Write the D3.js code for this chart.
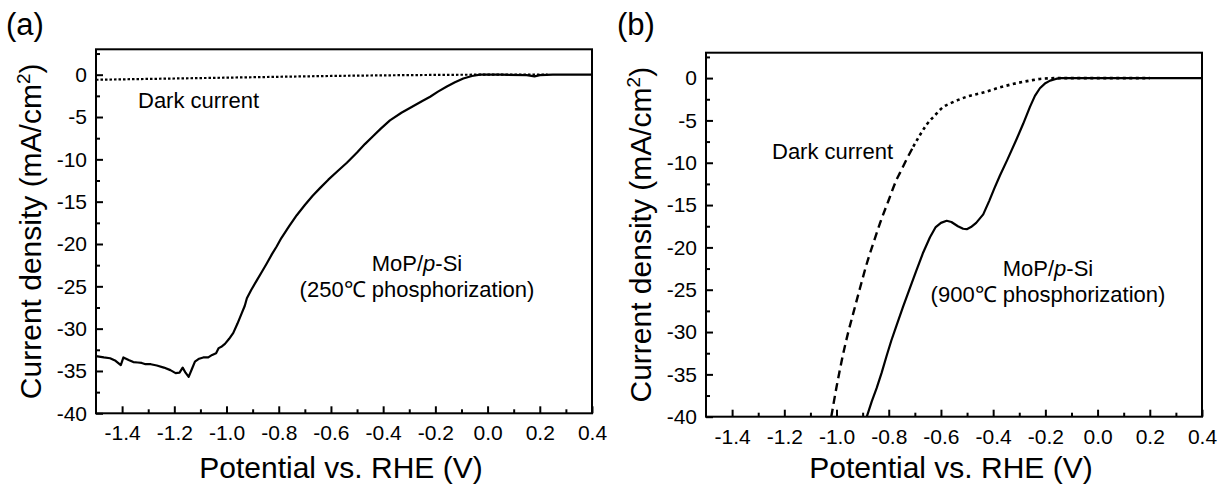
<!DOCTYPE html>
<html>
<head>
<meta charset="utf-8">
<script src="https://cdn.jsdelivr.net/npm/d3@7/dist/d3.min.js"></script>
<style>
  html, body { margin: 0; padding: 0; background: #fff; }
  svg { display: block; font-family: "Liberation Sans", Arial, sans-serif; }
  .tick text { font-size: 21px; fill: #000; }
  .tick line { stroke: #000; stroke-width: 2; }
</style>
</head>
<body>
<svg id="chart" width="1222" height="486"></svg>
<script>
// ---- data ----
const xMajor = [-1.4, -1.2, -1.0, -0.8, -0.6, -0.4, -0.2, 0.0, 0.2, 0.4];
const xMajorLabels = ['-1.4', '-1.2', '-1.0', '-0.8', '-0.6', '-0.4', '-0.2', '0.0', '0.2', '0.4'];
const xMinor = [-1.3, -1.1, -0.9, -0.7, -0.5, -0.3, -0.1, 0.1, 0.3];
const yMajor = [-40, -35, -30, -25, -20, -15, -10, -5, 0];
const yMajorLabels = ['-40', '-35', '-30', '-25', '-20', '-15', '-10', '-5', '0'];
const yMinor = [-37.5, -32.5, -27.5, -22.5, -17.5, -12.5, -7.5, -2.5, 2.5];

// (a) MoP/p-Si, 250 C phosphorization  [V, mA/cm2]
const lightA = [
  [-1.500, -33.25], [-1.470, -33.4], [-1.446, -33.5], [-1.425, -33.8], [-1.405, -34.3],
  [-1.395, -33.4], [-1.375, -33.7], [-1.357, -33.95], [-1.340, -34.0], [-1.325, -34.05],
  [-1.310, -34.2], [-1.290, -34.2], [-1.267, -34.35], [-1.240, -34.6], [-1.215, -34.9],
  [-1.195, -35.25], [-1.180, -35.2], [-1.168, -34.6], [-1.157, -35.2], [-1.145, -35.7],
  [-1.133, -34.8], [-1.121, -33.9], [-1.105, -33.55], [-1.089, -33.4], [-1.070, -33.4],
  [-1.055, -33.1], [-1.040, -32.9], [-1.030, -32.3], [-1.018, -32.1], [-1.006, -31.8],
  [-0.990, -31.2], [-0.974, -30.5], [-0.958, -29.4], [-0.942, -28.2], [-0.930, -27.3],
  [-0.922, -26.4], [-0.905, -25.4], [-0.884, -24.3], [-0.865, -23.3], [-0.846, -22.3],
  [-0.826, -21.2], [-0.808, -20.3], [-0.790, -19.3], [-0.760, -17.9], [-0.731, -16.6],
  [-0.700, -15.4], [-0.670, -14.3], [-0.642, -13.4], [-0.610, -12.4], [-0.575, -11.4],
  [-0.539, -10.4], [-0.500, -9.2], [-0.470, -8.2], [-0.440, -7.3], [-0.410, -6.4],
  [-0.374, -5.4], [-0.330, -4.5], [-0.284, -3.7], [-0.250, -3.1], [-0.220, -2.6],
  [-0.190, -2.0], [-0.156, -1.4], [-0.125, -0.9], [-0.093, -0.45], [-0.060, -0.15],
  [-0.029, 0.0], [0.050, 0.0], [0.150, -0.05], [0.180, -0.2], [0.200, -0.05],
  [0.250, 0.0], [0.400, 0.0]
];
const darkA = [
  [-1.5, -0.6], [-1.2, -0.45], [-0.9, -0.3], [-0.6, -0.15], [-0.3, -0.05], [0.0, 0.0], [0.23, 0.0]
];

// (b) MoP/p-Si, 900 C phosphorization
const lightB = [
  [-0.884, -40], [-0.865, -38.2], [-0.846, -36.6], [-0.827, -34.8], [-0.808, -32.8],
  [-0.790, -31.0], [-0.770, -29.2], [-0.745, -27.0], [-0.719, -24.8], [-0.695, -22.8],
  [-0.668, -20.6], [-0.642, -18.8], [-0.620, -17.6], [-0.600, -17.1], [-0.578, -16.85],
  [-0.560, -17.0], [-0.535, -17.5], [-0.515, -17.8], [-0.501, -17.85], [-0.485, -17.6],
  [-0.465, -17.1], [-0.438, -16.1], [-0.415, -14.5], [-0.395, -13.0], [-0.374, -11.5],
  [-0.345, -9.6], [-0.310, -7.2], [-0.285, -5.4], [-0.259, -3.4], [-0.240, -2.1],
  [-0.221, -1.2], [-0.200, -0.6], [-0.182, -0.3], [-0.160, -0.1], [-0.144, 0.0],
  [0.400, 0.0]
];
const darkB = [
  [-1.020, -40], [-1.000, -36.5], [-0.974, -32.5], [-0.955, -30.0], [-0.936, -27.8],
  [-0.910, -24.8], [-0.884, -21.9], [-0.858, -19.4], [-0.833, -17.1], [-0.800, -14.4],
  [-0.770, -12.0], [-0.757, -11.2], [-0.730, -9.5], [-0.706, -8.1], [-0.680, -6.7],
  [-0.655, -5.5], [-0.620, -4.3], [-0.591, -3.4], [-0.565, -3.0], [-0.501, -2.2],
  [-0.438, -1.7], [-0.374, -1.1], [-0.310, -0.6], [-0.260, -0.3], [-0.221, -0.1],
  [-0.150, 0.0], [0.200, 0.0]
];

const svg = d3.select('#chart');

function drawPanel(opts) {
  const W = 496, H = 364;
  const g = svg.append('g').attr('transform', `translate(${opts.left},${opts.top})`);

  const x = d3.scaleLinear().domain([-1.5, 0.4]).range([0, W]);
  const y = d3.scaleLinear().domain([-40, 3]).range([H, 0]);

  // minor ticks
  g.append('g').attr('transform', `translate(0,${H})`)
    .call(d3.axisBottom(x).tickValues(xMinor).tickSize(-4).tickFormat(''))
    .call(a => a.select('.domain').remove());
  g.append('g')
    .call(d3.axisLeft(y).tickValues(yMinor).tickSize(-4).tickFormat(''))
    .call(a => a.select('.domain').remove());

  // major ticks
  g.append('g').attr('transform', `translate(0,${H})`)
    .call(d3.axisBottom(x).tickValues(xMajor).tickSize(-7).tickPadding(12)
      .tickFormat((d, i) => xMajorLabels[i]))
    .call(a => a.select('.domain').remove());
  g.append('g')
    .call(d3.axisLeft(y).tickValues(yMajor).tickSize(-7).tickPadding(9)
      .tickFormat((d, i) => yMajorLabels[i]))
    .call(a => a.select('.domain').remove());

  // frame
  g.append('rect').attr('width', W).attr('height', H)
    .attr('fill', 'none').attr('stroke', '#000').attr('stroke-width', 2);

  const line = d3.line().x(d => x(d[0])).y(d => y(d[1])).curve(d3.curveMonotoneX);

  // dark current
  if (opts.darkSplit != null) {
    const lower = opts.dark.filter(d => d[1] <= opts.darkSplit);
    const upper = opts.dark.filter(d => d[1] >= opts.darkSplit - 1.5);
    g.append('path').datum(lower).attr('d', line)
      .attr('fill', 'none').attr('stroke', '#000').attr('stroke-width', 2.4)
      .attr('stroke-dasharray', '8,5');
    g.append('path').datum(upper.slice(1)).attr('d', line)
      .attr('fill', 'none').attr('stroke', '#000').attr('stroke-width', 2.6)
      .attr('stroke-dasharray', '3,3.5');
  } else {
    g.append('path').datum(opts.dark).attr('d', line)
      .attr('fill', 'none').attr('stroke', '#000').attr('stroke-width', 2.2)
      .attr('stroke-dasharray', '2.5,2');
  }

  // light current
  g.append('path').datum(opts.light).attr('d', d3.line().x(d => x(d[0])).y(d => y(d[1])))
    .attr('fill', 'none').attr('stroke', '#000').attr('stroke-width', 2.2)
    .attr('stroke-linejoin', 'round');

  // axis titles
  g.append('text')
    .attr('transform', `translate(-55,${H / 2}) rotate(-90)`)
    .attr('text-anchor', 'middle').attr('font-size', 30)
    .html('Current density (mA/cm<tspan dy="-11" font-size="19">2</tspan><tspan dy="11">)</tspan>');
  g.append('text')
    .attr('x', W / 2 - 3).attr('y', 478 - opts.top)
    .attr('text-anchor', 'middle').attr('font-size', 30)
    .text('Potential vs. RHE (V)');

  // annotations
  g.append('text').attr('x', opts.darkLabel[0]).attr('y', opts.darkLabel[1])
    .attr('font-size', 22).text('Dark current');
  const t = g.append('text').attr('text-anchor', 'middle').attr('font-size', 22);
  t.append('tspan').attr('x', opts.sampleLabel[0]).attr('y', opts.sampleLabel[1])
    .html('MoP/<tspan font-style="italic">p</tspan>-Si');
  t.append('tspan').attr('x', opts.sampleLabel[0]).attr('y', opts.sampleLabel[1] + 26)
    .text(opts.sampleTemp);

  svg.append('text').attr('x', opts.tagX).attr('y', 35)
    .attr('font-size', 31).text(opts.tag);
}

drawPanel({
  left: 96, top: 49.3, light: lightA, dark: darkA, darkSplit: null,
  darkLabel: [42, 59], sampleLabel: [321, 222], sampleTemp: '(250℃ phosphorization)',
  tag: '(a)', tagX: 6
});
drawPanel({
  left: 706, top: 52.7, light: lightB, dark: darkB, darkSplit: -8,
  darkLabel: [66, 106], sampleLabel: [342, 223], sampleTemp: '(900℃ phosphorization)',
  tag: '(b)', tagX: 617
});
</script>
</body>
</html>
